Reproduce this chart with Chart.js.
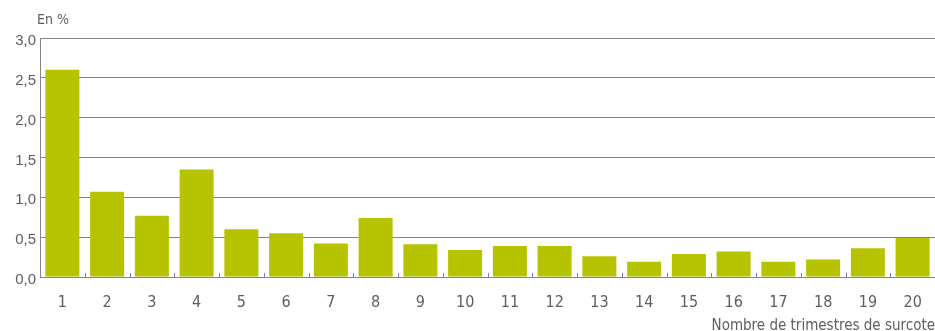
<!DOCTYPE html>
<html>
<head>
<meta charset="utf-8">
<script src="https://cdn.jsdelivr.net/npm/chart.js@4/dist/chart.umd.min.js"></script>
<style>
  html, body { margin: 0; padding: 0; background: #ffffff; }
  #wrap { width: 935px; height: 331px; position: relative; }
</style>
</head>
<body>
<div id="wrap"><canvas id="c"></canvas></div>
<script>
// Nombre de trimestres de surcote (1 à 20)
const categories = ['1','2','3','4','5','6','7','8','9','10','11','12','13','14','15','16','17','18','19','20'];
// Part en %
const shares = [2.6, 1.07, 0.77, 1.35, 0.60, 0.55, 0.42, 0.74, 0.41, 0.34, 0.39, 0.39, 0.26, 0.19, 0.29, 0.32, 0.19, 0.22, 0.36, 0.49];
// Graduations de l'axe vertical
const yTicks = [0, 0.5, 1.0, 1.5, 2.0, 2.5, 3.0];
const unitLabel = 'En %';
const xTitle = 'Nombre de trimestres de surcote';

const narrow = '"DejaVu Sans Condensed", "Liberation Sans", sans-serif';
const regular = '"Liberation Sans", Arial, sans-serif';
const textGrey = '#5e5e5e';
const barColor = '#b6c300';
const gridGrey = '#858585';
const baseBlue = '#7a78c8';

// Unité au-dessus de l'axe vertical + ligne de base et petites graduations entre les catégories
const decorations = {
  id: 'decorations',
  afterDraw(chart) {
    const { ctx, chartArea } = chart;
    ctx.save();
    ctx.fillStyle = textGrey;
    ctx.font = '14px ' + narrow;
    ctx.textAlign = 'left';
    ctx.textBaseline = 'middle';
    ctx.fillText(unitLabel, chartArea.left - 3, chartArea.top - 18);
    ctx.restore();
  },
  beforeDatasetsDraw(chart) {
    const { ctx, chartArea, scales } = chart;
    const x = scales.x;
    ctx.save();
    ctx.strokeStyle = baseBlue;
    ctx.lineWidth = 1;
    ctx.beginPath();
    ctx.moveTo(chartArea.left, chartArea.bottom + 0.5);
    ctx.lineTo(chartArea.right, chartArea.bottom + 0.5);
    for (let i = 0; i < categories.length - 1; i++) {
      const b = Math.round((x.getPixelForTick(i) + x.getPixelForTick(i + 1)) / 2) + 0.5;
      ctx.moveTo(b, chartArea.bottom);
      ctx.lineTo(b, chartArea.bottom - 4);
    }
    ctx.stroke();
    ctx.restore();
  }
};

new Chart(document.getElementById('c'), {
  type: 'bar',
  data: {
    labels: categories,
    datasets: [{
      data: shares,
      backgroundColor: barColor,
      borderWidth: 0,
      barPercentage: 0.76,
      categoryPercentage: 1.0
    }]
  },
  options: {
    responsive: true,
    maintainAspectRatio: false,
    animation: false,
    layout: { padding: { top: 38, right: 0, left: 0, bottom: 0 } },
    plugins: { legend: { display: false }, tooltip: { enabled: false } },
    scales: {
      x: {
        grid: { display: false, drawTicks: false },
        border: { display: false },
        ticks: {
          color: textGrey,
          font: { family: narrow, size: 16 },
          padding: 16,
          maxRotation: 0
        },
        title: {
          display: true,
          text: xTitle,
          align: 'end',
          color: textGrey,
          font: { family: narrow, size: 15 },
          padding: { top: 0, bottom: -4 }
        },
        afterFit(scale) {
          scale.height = 54;
          scale.paddingLeft = 0;
          scale.paddingRight = 0;
        }
      },
      y: {
        min: 0,
        max: 3,
        afterBuildTicks(scale) { scale.ticks = yTicks.map(v => ({ value: v })); },
        grid: { color: gridGrey, lineWidth: 1, drawTicks: false },
        border: { display: true, color: gridGrey, width: 1 },
        ticks: {
          color: textGrey,
          font: { family: regular, size: 15 },
          padding: 4,
          labelOffset: 3,
          callback: v => Number(v).toFixed(1).replace('.', ',')
        },
        afterFit(scale) {
          scale.width = 40;
          scale.paddingTop = 0;
          scale.paddingBottom = 0;
        }
      }
    }
  },
  plugins: [decorations]
});
</script>
</body>
</html>
